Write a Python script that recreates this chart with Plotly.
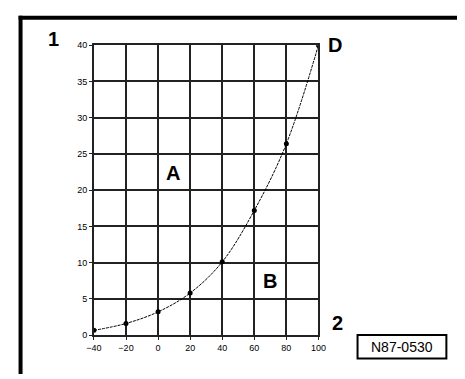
import plotly.graph_objects as go

x_vals = [-40, -20, 0, 20, 40, 60, 80, 100]
y_vals = [0.65, 1.6, 3.2, 5.8, 10.1, 17.2, 26.4, 40]
x_ticks = [-40, -20, 0, 20, 40, 60, 80, 100]
y_ticks = [0, 5, 10, 15, 20, 25, 30, 35, 40]

W, H = 465, 379

def px(x):
    return x / W

def py(y):
    return 1 - y / H

fig = go.Figure()
fig.add_trace(go.Scatter(
    x=x_vals, y=y_vals, mode="lines+markers",
    line=dict(color="black", width=1, shape="spline", dash="3px,1px"),
    marker=dict(color="black", size=5),
    showlegend=False, hoverinfo="skip",
))

axis_common = dict(
    showgrid=True, gridcolor="#222", gridwidth=1.5,
    showline=True, linecolor="#222", linewidth=1.5, mirror=True,
    ticks="outside", ticklen=3, tickcolor="#222", tickwidth=1,
    zeroline=False, fixedrange=True,
    tickfont=dict(family="Liberation Sans, Arial", size=9, color="black"),
)

fig.update_layout(
    width=W, height=H,
    margin=dict(l=0, r=0, t=0, b=0),
    paper_bgcolor="white", plot_bgcolor="white",
    xaxis=dict(range=[-40, 100], tickvals=x_ticks, domain=[px(89), px(321.5)], **axis_common),
    yaxis=dict(range=[0, 40], tickvals=y_ticks, domain=[py(339), py(41.3)], **axis_common),
    shapes=[
        dict(type="line", xref="paper", yref="paper", x0=px(13), x1=px(13), y0=py(11), y1=0,
             line=dict(color="black", width=4)),
        dict(type="line", xref="paper", yref="paper", x0=px(11), x1=1, y0=py(13), y1=py(13),
             line=dict(color="black", width=4)),
        dict(type="rect", xref="paper", yref="paper", x0=px(362), x1=px(454), y0=py(363), y1=py(339),
             line=dict(color="black", width=2)),
    ],
)

big = dict(family="Liberation Sans, Arial", size=20, color="black")
labels = [("1", 47, 35), ("D", 339, 41), ("A", 170.5, 172.5), ("B", 271, 283), ("2", 341, 326.5)]
for t, xx, yy in labels:
    fig.add_annotation(text="<b>%s</b>" % t, x=px(xx), y=py(yy), xref="paper", yref="paper",
                       showarrow=False, font=big, xanchor="center", yanchor="middle")
fig.add_annotation(text="N87-0530", x=px(408), y=py(351), xref="paper", yref="paper",
                   showarrow=False, font=dict(family="Liberation Sans, Arial", size=14, color="black"),
                   xanchor="center", yanchor="middle")

fig.write_html(
    "out.html",
    config={"displayModeBar": False},
    post_script="document.body.style.margin='0';document.body.style.overflow='hidden';document.documentElement.style.overflow='hidden';",
)
